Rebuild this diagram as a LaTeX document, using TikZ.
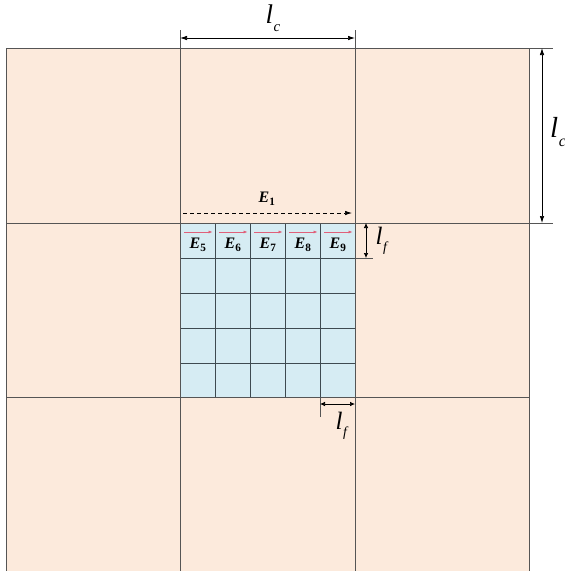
\documentclass[tikz,border=0pt]{standalone}
\usepackage{fontspec}
\setmainfont{Liberation Serif}
\usetikzlibrary{arrows.meta}
\definecolor{peach}{HTML}{FCEADC}
\definecolor{cellblue}{HTML}{D6ECF3}
\definecolor{gridgray}{HTML}{555555}
\definecolor{finegray}{HTML}{3E4A50}
\definecolor{redarrow}{HTML}{E0607A}
\newcommand{\dimlabel}[3]{\fontsize{#3}{#3}\selectfont\textit{#1}\kern0.02em\raisebox{-0.28em}{\fontsize{0.55\dimexpr#3pt\relax}{1}\selectfont\textit{#2}}}
\newcommand{\ename}[1]{{\fontsize{16}{16}\selectfont\bfseries\itshape E}{\fontsize{16}{16}\selectfont\bfseries\textsubscript{#1}}}
\begin{document}
\begin{tikzpicture}[x=1pt,y=-1pt,
  gridline/.style={draw=gridgray,line width=1pt},
  fineline/.style={draw=finegray,line width=1pt},
  dimarrow/.style={draw=black,line width=0.7pt,{Latex[length=7pt,width=4.5pt]}-{Latex[length=7pt,width=4.5pt]}},
  smalldim/.style={draw=black,line width=0.7pt,{Latex[length=5pt,width=4.5pt]}-{Latex[length=5pt,width=4.5pt]}},
  redarr/.style={draw=redarrow,line width=0.9pt,-{Latex[length=4.5pt,width=3pt]}},
  lbl/.style={inner sep=0pt,anchor=center}]
\useasboundingbox (0,0) rectangle (565,571);
% fills
\fill[peach] (6,48) rectangle (529,571);
\fill[cellblue] (180,223) rectangle (355,397);
% fine grid
\foreach \x in {215,250,285,320} \draw[fineline] (\x,223) -- (\x,397);
\foreach \y in {258,293,328,363} \draw[fineline] (180,\y) -- (355,\y);
% coarse grid
\foreach \x in {6,529} \draw[gridline] (\x,48) -- (\x,571);
\foreach \x in {180,355} \draw[gridline] (\x,30) -- (\x,571);
\draw[gridline] (6,48) -- (553,48);
\draw[gridline] (6,223) -- (553,223);
\draw[gridline] (6,397) -- (529,397);
% extension lines
\draw[gridline] (355,258) -- (373,258);
\draw[gridline] (320,397) -- (320,417);
% named coordinates
\coordinate (tcL) at (180,38);
\coordinate (tcR) at (355,38);
\coordinate (rcT) at (542,48);
\coordinate (rcB) at (542,223);
\coordinate (rfT) at (366,223);
\coordinate (rfB) at (366,258);
\coordinate (bfL) at (320,404);
\coordinate (bfR) at (355,404);
\coordinate (e1L) at (183,213);
\coordinate (e1R) at (352,213);
% dimension arrows
\draw[dimarrow] (tcL) -- (tcR);
\draw[dimarrow] (rcT) -- (rcB);
\draw[smalldim] (rfT) -- (rfB);
\draw[smalldim] (bfL) -- (bfR);
\draw[black,line width=0.7pt,dash pattern=on 4pt off 3pt,-{Latex[length=7pt,width=4.5pt]}] (e1L) -- (e1R);
% labels
\node[lbl] (lctop) at (273,18) {\dimlabel{l}{c}{27}};
\node[lbl] (lcright) at (558,132) {\dimlabel{l}{c}{29}};
\node[lbl] (lfright) at (382,241) {\dimlabel{l}{f}{25}};
\node[lbl] (lfbot) at (342,426) {\dimlabel{l}{f}{25}};
\node[lbl] (e1) at (267,199) {\ename{1}};
% E5..E9 with red arrows
\foreach \i/\x in {5/180,6/215,7/250,8/285,9/320}{
  \coordinate (ra\i) at (\x+4,232);
  \coordinate (rb\i) at (\x+33,232);
  \draw[redarr] (ra\i) -- (rb\i);
  \node[lbl] (e\i) at (\x+18,245) {\ename{\i}};
}
\end{tikzpicture}
\end{document}
